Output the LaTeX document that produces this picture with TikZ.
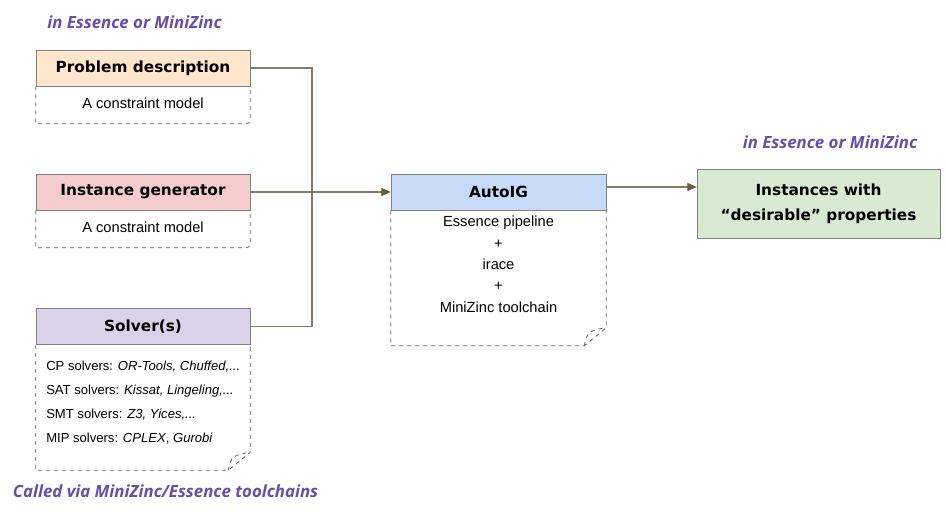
\documentclass[tikz,border=0pt]{standalone}
\usepackage{fontspec}
\setmainfont{Liberation Sans}
\newfontfamily\headfont{DejaVu Sans}
\newfontfamily\notefont{Open Sans}
\usetikzlibrary{arrows.meta, positioning}

\definecolor{probfill}{HTML}{FFE6CC}
\definecolor{genfill}{HTML}{F4CCCC}
\definecolor{solvfill}{HTML}{D9D2E9}
\definecolor{autofill}{HTML}{C9DAF8}
\definecolor{outfill}{HTML}{D9EAD3}
\definecolor{notecol}{HTML}{674EA7}
\definecolor{linkcol}{HTML}{857A68}
\definecolor{tipcol}{HTML}{6B5D45}

\begin{document}
\begin{tikzpicture}[
      x=0.75pt, y=-0.75pt,
      head/.style={rectangle, draw=gray, minimum width=160.5pt, minimum height=27pt, inner sep=0pt,
        text centered, font=\headfont\bfseries\fontsize{11.5}{13}\selectfont},
      body/.style={rectangle, minimum width=160.5pt, inner sep=0pt, font=\fontsize{11}{13}\selectfont},
      edge/.style={draw=black!60, dashed, line width=0.6pt},
      link/.style={draw=linkcol, line width=0.8pt},
      arrow/.style={link, -{Triangle[length=7pt, width=6pt, fill=tipcol, color=tipcol]}},
      note/.style={text=notecol, font=\notefont\bfseries\itshape\fontsize{12.6}{15}\selectfont}
    ]

    \useasboundingbox (0,0) rectangle (946,512);

    % left column
    \node[head, fill=probfill] (prob) at (143,68) {Problem description};
    \node[body, below=0pt of prob, minimum height=27.75pt] (probbody) {\raisebox{3pt}{A constraint model}};

    \node[head, fill=genfill] (gen) at (143,192) {Instance generator};
    \node[body, below=0pt of gen, minimum height=27.75pt] (genbody) {\raisebox{3pt}{A constraint model}};

    \node[head, fill=solvfill] (solv) at (143,326.5) {Solver(s)};
    \node[body, below=0pt of solv, minimum height=93.75pt] (solvbody) {};
    \node[anchor=north west, align=left, inner sep=0pt, font=\fontsize{9.8}{18}\selectfont]
      (solvlist) at (46,361) {CP solvers: \textit{OR-Tools, Chuffed,...}\\
      SAT solvers: \textit{Kissat, Lingeling,...}\\
      SMT solvers: \textit{Z3, Yices,...}\\
      MIP solvers: \textit{CPLEX}, \textit{Gurobi}};

    % middle and right
    \node[head, fill=autofill, minimum width=161.25pt] (auto) at (498.5,192) {AutoIG};
    \node[body, below=0pt of auto, minimum width=161.25pt, minimum height=101.25pt] (autobody) {};
    \node[anchor=north, align=center, inner sep=0pt, font=\fontsize{11}{16}\selectfont]
      (autolist) at (498.5,216) {Essence pipeline\\ +\\ irace\\ +\\ MiniZinc toolchain};

    \node[head, fill=outfill, minimum width=182.25pt, minimum height=51.75pt, align=center,
      font=\headfont\bfseries\fontsize{11.5}{19}\selectfont] (out) at (818.5,203.5)
      {Instances with\\ “desirable” properties};

    % dashed bodies
    \draw[edge] (probbody.north west) -- (probbody.south west)
      [rounded corners=3pt] -- (probbody.south east) -- (probbody.north east);
    \draw[edge] (genbody.north west) -- (genbody.south west)
      [rounded corners=3pt] -- (genbody.south east) -- (genbody.north east);
    \foreach \b in {solvbody, autobody} {
      \draw[edge] (\b.north west) -- (\b.south west) -- ([xshift=-16.5pt]\b.south east)
        -- ([yshift=13.5pt]\b.south east) -- (\b.north east);
      \draw[edge] ([xshift=-16.5pt]\b.south east) .. controls ([xshift=-15pt,yshift=10pt]\b.south east)
        and ([xshift=-12pt,yshift=12pt]\b.south east) .. ([yshift=13.5pt]\b.south east);
    }

    % labels
    \node[note] (lang1) at (134.5,22) {in Essence or MiniZinc};
    \node[note] (lang2) at (830,142) {in Essence or MiniZinc};
    \node[note] (calls) at (165.5,491) {Called via MiniZinc/Essence toolchains};

    % connectors
    \coordinate (join) at (312,192);
    \draw[link] (prob.east) -| (join);
    \draw[link] (solv.east) -| (join);
    \draw[arrow] (gen.east) -- (auto.west);
    \draw[arrow] ([yshift=3.75pt]auto.east) -- ([yshift=3.75pt]auto.east -| out.west);

\end{tikzpicture}
\end{document}
